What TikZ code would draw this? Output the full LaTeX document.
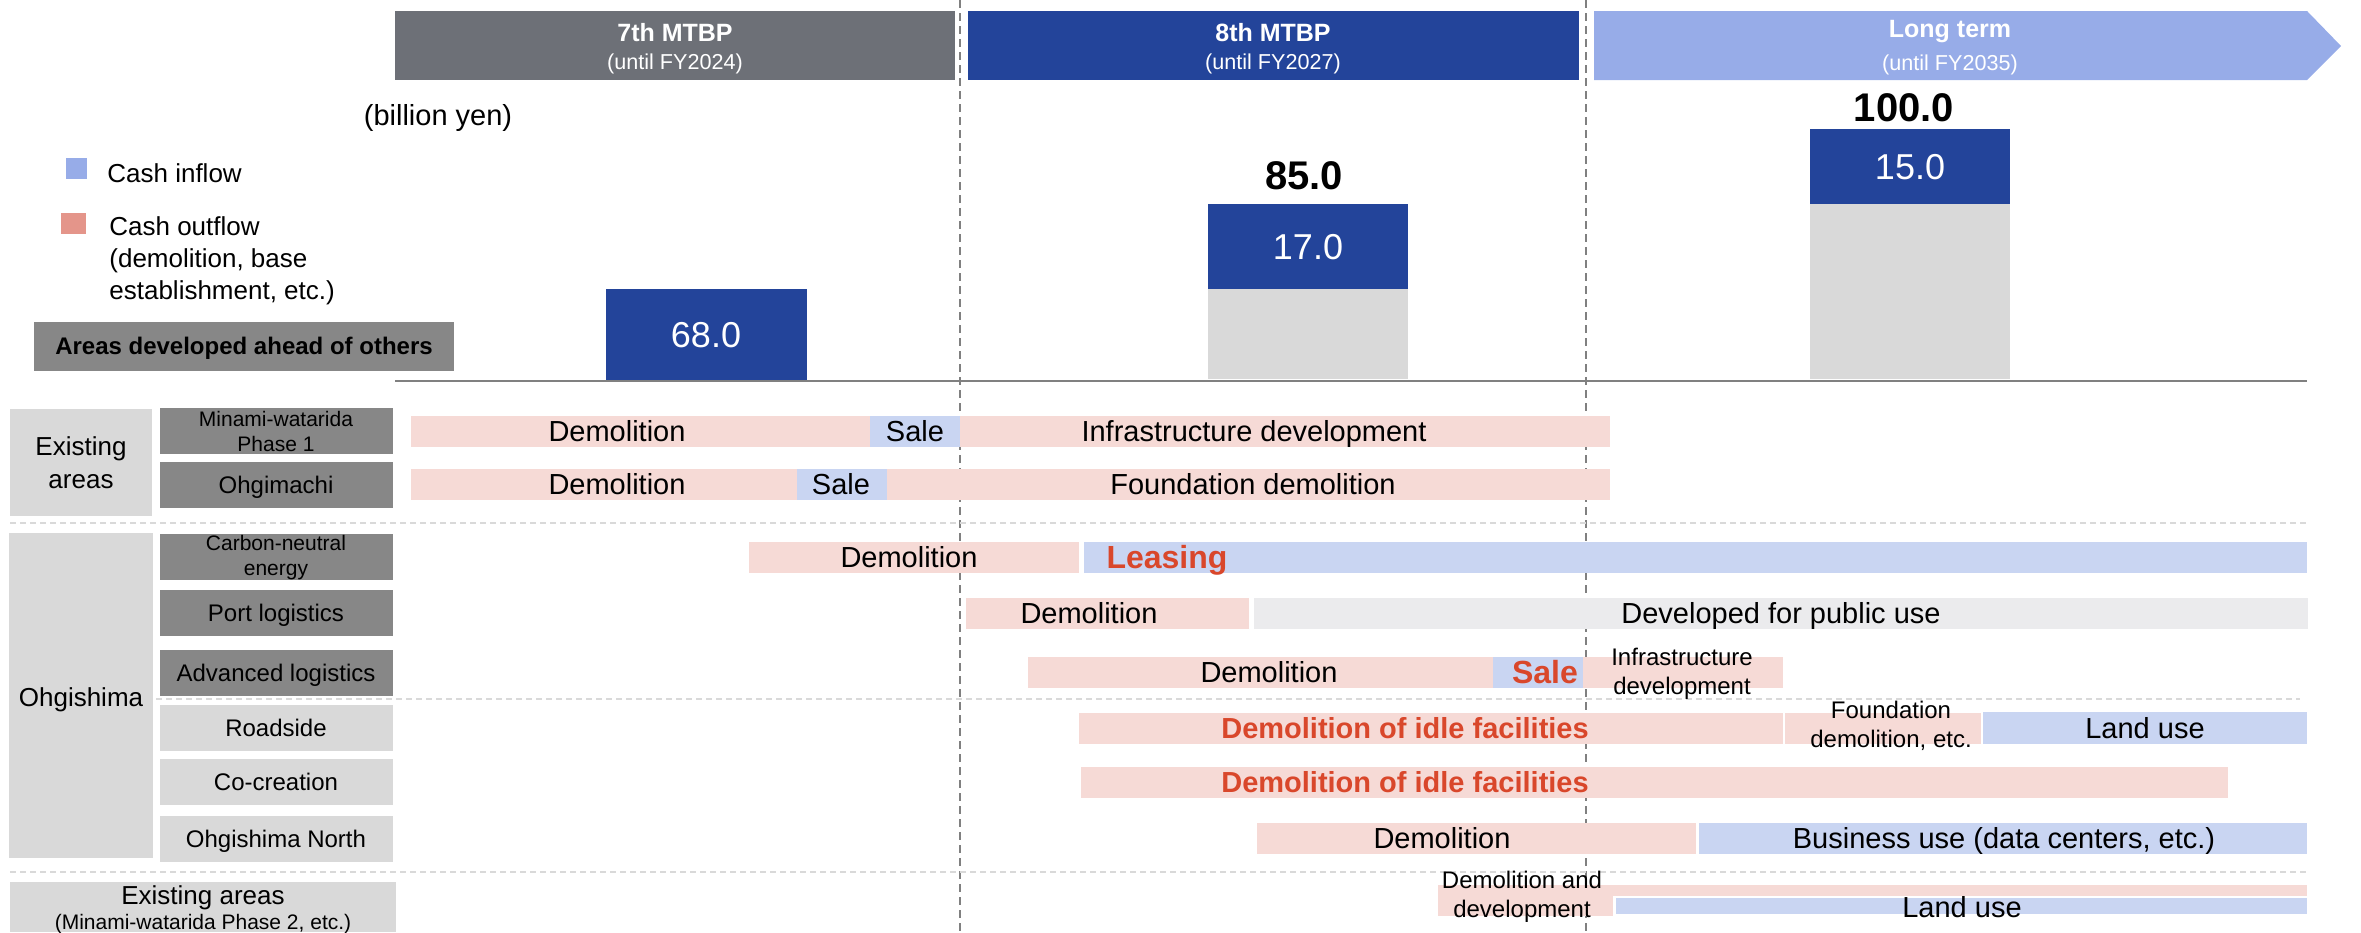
\documentclass[tikz,border=0pt]{standalone}
\usepackage{fontspec}
\setmainfont{Liberation Sans}

\definecolor{mtbpgray}{HTML}{6D7077}
\definecolor{mtbpblue}{HTML}{23449A}
\definecolor{longblue}{HTML}{97ACE8}
\definecolor{outpink}{HTML}{E4958A}
\definecolor{barpink}{HTML}{F6DAD6}
\definecolor{barblue}{HTML}{C9D5F2}
\definecolor{bargray}{HTML}{EBEBED}
\definecolor{labdark}{HTML}{878787}
\definecolor{lablight}{HTML}{D9D9D9}
\definecolor{accent}{HTML}{D9472B}
\definecolor{axisgray}{HTML}{808080}

\begin{document}
\begin{tikzpicture}[x=0.5pt, y=-0.5pt,
    every node/.style={inner sep=0pt},
    hdr/.style={font=\bfseries\fontsize{12.5}{15}\selectfont, text=white},
    hdrsub/.style={font=\fontsize{10.8}{13}\selectfont, text=white},
    bartxt/.style={font=\fontsize{14.5}{17}\selectfont, text height=10.4pt, text depth=0pt},
    barred/.style={font=\bfseries\fontsize{14.5}{17}\selectfont, text=accent, text height=10.4pt, text depth=0pt},
    barbig/.style={font=\bfseries\fontsize{16}{19}\selectfont, text=accent, text height=11.5pt, text depth=0pt},
    barsmall/.style={font=\fontsize{12}{14.5}\selectfont, align=center},
    rowtxt/.style={font=\fontsize{12}{14}\selectfont, text height=8.6pt, text depth=0pt},
    rowsmall/.style={font=\fontsize{10.5}{12.5}\selectfont, align=center},
    grptxt/.style={font=\fontsize{13}{16.5}\selectfont, align=center},
    valtxt/.style={font=\fontsize{18}{20}\selectfont, text=white, text height=12.9pt, text depth=0pt},
    tottxt/.style={font=\bfseries\fontsize{20}{22}\selectfont, text height=14.3pt, text depth=0pt},
    sepline/.style={lablight, line width=1pt, dash pattern=on 3pt off 2pt},
    periodline/.style={axisgray, line width=0.6pt, dash pattern=on 4pt off 2.5pt}]
    \useasboundingbox (0,0) rectangle (2361,932);

    % period headers
    \fill[mtbpgray] (395,11) rectangle (955,80);
    \fill[mtbpblue] (968,11) rectangle (1579,80);
    \fill[longblue] (1594,11) -- (2307,11) -- (2341,46) -- (2307,80) -- (1594,80) -- cycle;
    \node[hdr] (p7) at (675,33) {7th MTBP};
    \node[hdrsub] (p7y) at (675,64) {(until FY2024)};
    \node[hdr] (p8) at (1273,33) {8th MTBP};
    \node[hdrsub] (p8y) at (1273,64) {(until FY2027)};
    \node[hdr] (plt) at (1950,32) {Long term};
    \node[hdrsub] (plty) at (1950,65) {(until FY2035)};

    % legend
    \node[font=\fontsize{14.5}{17}\selectfont] (unit) at (438,118) {(billion yen)};
    \fill[longblue] (66,158) rectangle (87,179);
    \node[anchor=west, font=\fontsize{13}{16}\selectfont, text height=9.3pt, text depth=0pt] (inflow) at (107,173) {Cash inflow};
    \fill[outpink] (61,213) rectangle (86,234);
    \node[anchor=west, align=left, font=\fontsize{13}{16}\selectfont] (outflow) at (109,261) {Cash outflow\\(demolition, base\\establishment, etc.)};
    \fill[labdark] (34,322) rectangle (454,371);
    \node[font=\bfseries\fontsize{12}{14}\selectfont, text height=8.6pt, text depth=0pt] (ahead) at (244,346) {Areas developed ahead of others};

    % cash bars
    \fill[mtbpblue] (606,289) rectangle (807,382);
    \node[valtxt] (v68) at (706,335) {68.0};
    \fill[lablight] (1208,289) rectangle (1408,379);
    \fill[mtbpblue] (1208,204) rectangle (1408,289);
    \node[valtxt] (v17) at (1308,247) {17.0};
    \node[tottxt] (t85) at (1304,175) {85.0};
    \fill[lablight] (1810,204) rectangle (2010,379);
    \fill[mtbpblue] (1810,129) rectangle (2010,204);
    \node[valtxt] (v15) at (1910,167) {15.0};
    \node[tottxt] (t100) at (1904,107) {100.0};
    \draw[axisgray, line width=1pt] (395,381) -- (2307,381);

    % period borders
    \draw[periodline] (960,0) -- (960,932);
    \draw[periodline] (1586,0) -- (1586,932);

    % group separators
    \draw[sepline] (10,523) -- (2307,523);
    \draw[sepline] (156,699) -- (2300,699);
    \draw[sepline] (10,872) -- (2307,872);

    % area labels
    \fill[lablight] (10,409) rectangle (152,516);
    \node[grptxt] (gexist) at (81,463) {Existing\\areas};
    \fill[lablight] (9,533) rectangle (153,858);
    \node[grptxt, text height=9.3pt, text depth=0pt] (gohgi) at (81,697) {Ohgishima};
    \fill[lablight] (10,882) rectangle (396,932);
    \node[grptxt, text height=9.3pt, text depth=0pt] (gexist2) at (203,895) {Existing areas};
    \node[rowsmall, text height=7.5pt, text depth=0pt] (gexist2b) at (203,922) {(Minami-watarida Phase 2, etc.)};

    \fill[labdark] (160,408) rectangle (393,454);
    \node[rowsmall] (lmw) at (276,431) {Minami-watarida\\Phase 1};
    \fill[labdark] (160,462) rectangle (393,508);
    \node[rowtxt] (log) at (276,485) {Ohgimachi};
    \fill[labdark] (160,534) rectangle (393,580);
    \node[rowsmall] (lcn) at (276,558) {Carbon-neutral\\energy};
    \fill[labdark] (160,590) rectangle (393,636);
    \node[rowtxt] (lpl) at (276,613) {Port logistics};
    \fill[labdark] (160,650) rectangle (393,696);
    \node[rowtxt] (lal) at (276,673) {Advanced logistics};
    \fill[lablight] (160,705) rectangle (393,751);
    \node[rowtxt] (lrs) at (276,728) {Roadside};
    \fill[lablight] (160,759) rectangle (393,805);
    \node[rowtxt] (lcc) at (276,782) {Co-creation};
    \fill[lablight] (160,816) rectangle (393,862);
    \node[rowtxt] (lon) at (276,839) {Ohgishima North};

    % Minami-watarida Phase 1
    \fill[barpink] (411,416) rectangle (870,447);
    \fill[barblue] (870,416) rectangle (960,447);
    \fill[barpink] (960,416) rectangle (1610,447);
    \node[bartxt] (mw1) at (617,431.5) {Demolition};
    \node[bartxt] (mw2) at (915,431.5) {Sale};
    \node[bartxt] (mw3) at (1254,431.5) {Infrastructure development};

    % Ohgimachi
    \fill[barpink] (411,469) rectangle (797,500);
    \fill[barblue] (797,469) rectangle (887,500);
    \fill[barpink] (887,469) rectangle (1610,500);
    \node[bartxt] (og1) at (617,484.5) {Demolition};
    \node[bartxt] (og2) at (841,484.5) {Sale};
    \node[bartxt] (og3) at (1253,484.5) {Foundation demolition};

    % Carbon-neutral energy
    \fill[barpink] (749,542) rectangle (1079,573);
    \fill[barblue] (1084,542) rectangle (2307,573);
    \node[bartxt] (cn1) at (909,557.5) {Demolition};
    \node[barbig] (cn2) at (1167,557) {Leasing};

    % Port logistics
    \fill[barpink] (966,598) rectangle (1249,629);
    \fill[bargray] (1254,598) rectangle (2308,629);
    \node[bartxt] (pl1) at (1089,613.5) {Demolition};
    \node[bartxt] (pl2) at (1781,613.5) {Developed for public use};

    % Advanced logistics
    \fill[barpink] (1028,657) rectangle (1493,688);
    \fill[barblue] (1493,657) rectangle (1583,688);
    \fill[barpink] (1583,657) rectangle (1783,688);
    \node[bartxt] (al1) at (1269,672.5) {Demolition};
    \node[barbig] (al2) at (1545,672) {Sale};
    \node[barsmall] (al3) at (1682,674) {Infrastructure\\development};

    % Roadside
    \fill[barpink] (1079,713) rectangle (1783,744);
    \fill[barpink] (1785,713) rectangle (1981,744);
    \fill[barblue] (1983,712) rectangle (2307,744);
    \node[barred] (rs1) at (1405,728.5) {Demolition of idle facilities};
    \node[barsmall] (rs2) at (1891,726) {Foundation\\demolition, etc.};
    \node[bartxt] (rs3) at (2145,728.5) {Land use};

    % Co-creation
    \fill[barpink] (1081,767) rectangle (2228,798);
    \node[barred] (cc1) at (1405,782.5) {Demolition of idle facilities};

    % Ohgishima North
    \fill[barpink] (1257,823) rectangle (1696,854);
    \fill[barblue] (1699,823) rectangle (2307,854);
    \node[bartxt] (on1) at (1442,838.5) {Demolition};
    \node[bartxt] (on2) at (2004,838.5) {Business use (data centers, etc.)};

    % Existing areas (Minami-watarida Phase 2, etc.)
    \fill[barpink] (1438,885) rectangle (2307,896);
    \fill[barpink] (1438,885) rectangle (1613,916);
    \fill[barblue] (1616,898) rectangle (2307,914);
    \node[barsmall] (ex1) at (1522,897) {Demolition and\\development};
    \node[bartxt] (ex2) at (1962,907) {Land use};
\end{tikzpicture}
\end{document}
